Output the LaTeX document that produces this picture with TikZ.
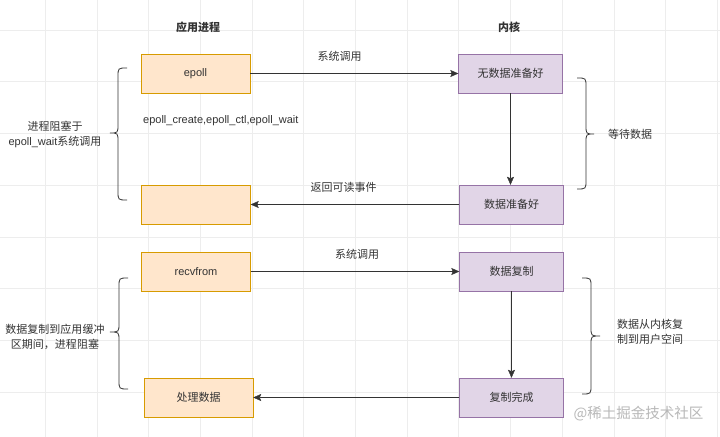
\documentclass[tikz,border=0pt]{standalone}
\usepackage{fontspec}
\setmainfont{Liberation Sans}
\newfontfamily\cjk{Noto Sans CJK SC}
\usetikzlibrary{arrows.meta, positioning}
\definecolor{appfill}{HTML}{FFE6CC}
\definecolor{appedge}{HTML}{D79B00}
\definecolor{kernfill}{HTML}{E1D5E7}
\definecolor{kernedge}{HTML}{9673A6}
\definecolor{gridgray}{HTML}{EDEDED}
\definecolor{ink}{HTML}{333333}

\begin{document}
\begin{tikzpicture}[x=1bp, y=-1bp,
  font=\fontsize{11bp}{15bp}\selectfont, text=ink,
  appbox/.style={draw=appedge, fill=appfill, minimum width=109bp, minimum height=39bp, inner sep=0pt},
  kernbox/.style={draw=kernedge, fill=kernfill, minimum width=104bp, minimum height=39bp, inner sep=0pt},
  flow/.style={draw=ink, -{Stealth[length=8bp, width=7bp, inset=1.5bp]}},
  curly/.style={draw=ink, line width=0.8bp},
  note/.style={align=center, inner sep=0pt},
  callname/.style={inner sep=0pt, font=\fontsize{11bp}{15bp}\cjk}]
% Page and background grid
\useasboundingbox (0,0) rectangle (720,437);
\fill[white] (0,0) rectangle (720,437);
\foreach \x in {0,...,13} {
  \draw[gridgray] (45+51.7*\x,0) -- (45+51.7*\x,437);
}
\foreach \y in {0,...,7} {
  \draw[gridgray] (0,30+51.7*\y) -- (720,30+51.7*\y);
}

% Column headings
\node[font=\fontsize{11bp}{15bp}\cjk\bfseries] (apphead) at (198,27) {应用进程};
\node[font=\fontsize{11bp}{15bp}\cjk\bfseries] (kernhead) at (509,27) {内核};

% epoll stage
\node[appbox] (epoll) at (195.5,73.5) {epoll};
\node[kernbox] (nodata) at (510.5,73.5) {\cjk 无数据准备好};
\node[appbox] (notify) at (196,204.5) {};
\node[kernbox] (ready) at (511.5,204.5) {\cjk 数据准备好};
\node[note, anchor=west] (calls) at (143,121) {epoll\_create,epoll\_ctl,epoll\_wait};

\draw[flow] (epoll.east) -- node[callname, pos=0.43, above=12bp] {系统调用} (nodata.west);
\draw[flow] (nodata.south) -- (nodata.south |- ready.north);
\draw[flow] (ready.west) -- node[callname, pos=0.555, above=12bp] {返回可读事件} (notify.east);

% recvfrom stage
\node[appbox] (recv) at (196,271.5) {recvfrom};
\node[kernbox] (copy) at (511.5,271.5) {\cjk 数据复制};
\node[appbox] (handle) at (198.5,397.5) {\cjk 处理数据};
\node[kernbox] (done) at (511.5,397.5) {\cjk 复制完成};

\draw[flow] (recv.east) -- node[callname, pos=0.51, above=12bp] {系统调用} (copy.west);
\draw[flow] (copy.south) -- (copy.south |- done.north);
\draw[flow] (done.west) -- (handle.east);

% Braces
\draw[curly] (127,68) .. controls (118,68) .. (118,77) -- (118,124)
  .. controls (118,133) .. (110,133) .. controls (118,133) .. (118,142)
  -- (118,191) .. controls (118,200) .. (127,200);
\draw[curly] (577,78) .. controls (586,78) .. (586,87) -- (586,125)
  .. controls (586,134) .. (594,134) .. controls (586,134) .. (586,143)
  -- (586,180) .. controls (586,189) .. (577,189);
\draw[curly] (128,278) .. controls (119,278) .. (119,287) -- (119,323)
  .. controls (119,332) .. (110,332) .. controls (119,332) .. (119,341)
  -- (119,380) .. controls (119,389) .. (128,389);
\draw[curly] (582,278) .. controls (591,278) .. (591,287) -- (591,327)
  .. controls (591,336) .. (600,336) .. controls (591,336) .. (591,345)
  -- (591,385) .. controls (591,394) .. (582,394);

% Brace labels
\node[note] (blockwait) at (55,134.5) {\cjk 进程阻塞于\\epoll\_wait\cjk 系统调用};
\node[note] (waitdata) at (630,134) {\cjk 等待数据};
\node[note] (blockcopy) at (55,336.5) {\cjk 数据复制到应用缓冲\\\cjk 区期间，进程阻塞};
\node[note] (copyuser) at (650,332) {\cjk 数据从内核复\\\cjk 制到用户空间};

% Watermark
\node[font=\fontsize{14.5bp}{16bp}\cjk, text=black!28] (mark) at (638.5,414) {@稀土掘金技术社区};
\end{tikzpicture}
\end{document}
